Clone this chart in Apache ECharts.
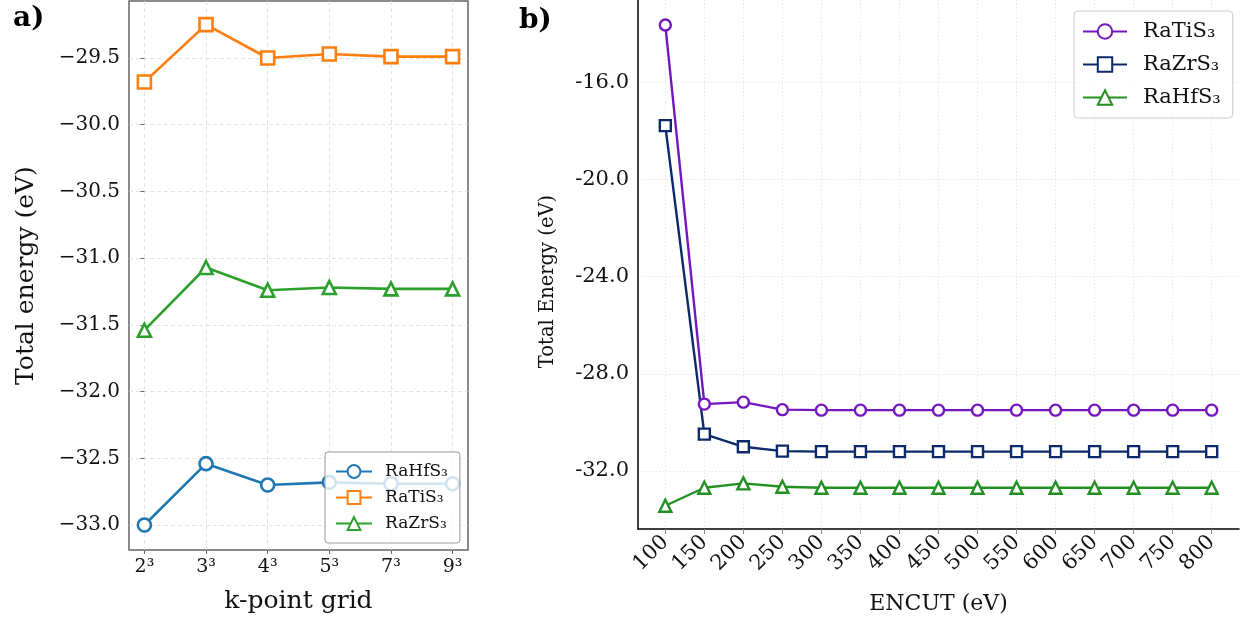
<!DOCTYPE html>
<html>
<head>
<meta charset="utf-8">
<script src="https://cdn.jsdelivr.net/npm/echarts@6/dist/echarts.min.js"></script>
<style>
html, body { margin: 0; background: #fff; }
#chart { width: 1244px; height: 623px; }
</style>
</head>
<body>
<div id="chart"></div>
<script>
// a) k-point grid convergence
const kGrid = ['2³', '3³', '4³', '5³', '7³', '9³'];
const kHf = [-33.00, -32.54, -32.70, -32.68, -32.69, -32.69];
const kTi = [-29.68, -29.25, -29.50, -29.47, -29.49, -29.49];
const kZr = [-31.54, -31.07, -31.24, -31.22, -31.23, -31.23];
const kTicks = [-33.0, -32.5, -32.0, -31.5, -31.0, -30.5, -30.0, -29.5];

// b) ENCUT convergence
const encut = [100, 150, 200, 250, 300, 350, 400, 450, 500, 550, 600, 650, 700, 750, 800];
const eTi = [-13.62, -29.25, -29.17, -29.48, -29.50, -29.50, -29.50, -29.50, -29.50, -29.50, -29.50, -29.50, -29.50, -29.50, -29.50];
const eZr = [-17.77, -30.49, -31.01, -31.19, -31.21, -31.21, -31.21, -31.21, -31.21, -31.21, -31.21, -31.21, -31.21, -31.21, -31.21];
const eHf = [-33.44, -32.70, -32.52, -32.66, -32.70, -32.70, -32.70, -32.70, -32.70, -32.70, -32.70, -32.70, -32.70, -32.70, -32.70];
const eTicks = [-32, -28, -24, -20, -16];

const serif = 'DejaVu Serif';

const kLine = (name, data, color, symbol) => ({
    name: name,
    type: 'line',
    xAxisIndex: 0,
    yAxisIndex: 0,
    data: data.map((v, i) => [i, v]),
    symbol: symbol,
    symbolSize: 13,
    lineStyle: { color: color, width: 2.6 },
    itemStyle: { color: '#fff', borderColor: color, borderWidth: 2.6 },
    z: 3
})
const eLine = (name, data, color, symbol, size) => ({
    name: name + ' (b)',
    type: 'line',
    xAxisIndex: 1,
    yAxisIndex: 1,
    data: encut.map((x, i) => [x, data[i]]),
    symbol: symbol,
    symbolSize: size,
    lineStyle: { color: color, width: 2.4 },
    itemStyle: { color: '#fff', borderColor: color, borderWidth: 2.4 },
    z: 3
})

const chart = echarts.init(document.getElementById('chart'))
chart.setOption({
    animation: false,
    textStyle: { fontFamily: serif },
    title: [
        { text: 'a)', left: 8, top: 0, textStyle: { fontFamily: serif, fontWeight: 'bold', fontSize: 28, color: '#000' } },
        { text: 'b)', left: 514, top: 2, textStyle: { fontFamily: serif, fontWeight: 'bold', fontSize: 28, color: '#000' } }
    ],
    grid: [
        { left: 129, top: 1, width: 339, height: 549, show: true, borderColor: '#666', borderWidth: 1.5, backgroundColor: 'transparent' },
        { left: 638, top: 0, right: 5, bottom: 94 }
    ],
    xAxis: [
        {
            type: 'value', gridIndex: 0, min: -0.25, max: 5.25,
            name: 'k-point grid', nameLocation: 'middle', nameGap: 39,
            nameTextStyle: { fontFamily: serif, fontSize: 25, color: '#111' },
            axisLine: { show: false },
            axisTick: { show: true, customValues: [0, 1, 2, 3, 4, 5], length: 4, lineStyle: { color: '#666' } },
            axisLabel: { customValues: [0, 1, 2, 3, 4, 5], formatter: v => kGrid[Math.round(v)], fontSize: 19, color: '#111', margin: 8 },
            splitLine: { show: true, lineStyle: { color: '#dcdcdc', type: [4, 3], width: 0.8 } }
        },
        {
            type: 'value', gridIndex: 1, min: 65, max: 835,
            name: 'ENCUT (eV)', nameLocation: 'middle', nameGap: 64,
            nameTextStyle: { fontFamily: serif, fontSize: 22, color: '#111' },
            axisLine: { show: true, lineStyle: { color: '#000', width: 1.5 } },
            axisTick: { show: true, customValues: encut, length: 5, lineStyle: { color: '#888' } },
            axisLabel: { customValues: encut, rotate: 45, fontSize: 21, color: '#111', margin: 10 },
            splitLine: { show: true, lineStyle: { color: '#e2e2e2', type: [1.5, 2], width: 0.8 } }
        }
    ],
    yAxis: [
        {
            type: 'value', gridIndex: 0, min: -33.187, max: -29.073,
            name: 'Total energy (eV)', nameLocation: 'middle', nameGap: 90,
            nameTextStyle: { fontFamily: serif, fontSize: 25, color: '#111' },
            axisLine: { show: false },
            axisTick: { show: true, customValues: kTicks, length: 4, lineStyle: { color: '#666' } },
            axisLabel: { customValues: kTicks, formatter: v => v.toFixed(1).replace('-', '\u2212'), fontSize: 20, color: '#111', margin: 9 },
            splitLine: { show: true, lineStyle: { color: '#dcdcdc', type: [4, 3], width: 0.8 } }
        },
        {
            type: 'value', gridIndex: 1, min: -34.40, max: -12.59,
            name: 'Total Energy (eV)', nameLocation: 'middle', nameGap: 80,
            nameTextStyle: { fontFamily: serif, fontSize: 19.5, color: '#111', padding: [0, 34, 0, 0] },
            axisLine: { show: true, lineStyle: { color: '#000', width: 1.5 } },
            axisTick: { show: false, customValues: eTicks },
            axisLabel: { customValues: eTicks, formatter: v => v.toFixed(1), fontSize: 21, color: '#111', margin: 9 },
            splitLine: { show: true, lineStyle: { color: '#e2e2e2', type: [1.5, 2], width: 0.8 } }
        }
    ],
    legend: [
        {
            data: ['RaHfS₃', 'RaTiS₃', 'RaZrS₃'],
            orient: 'vertical', left: 325, top: 452,
            padding: [11, 12, 11, 10], itemGap: 9, itemWidth: 36, itemHeight: 16,
            backgroundColor: 'rgba(255,255,255,0.8)', borderColor: '#999', borderWidth: 1, borderRadius: 3,
            textStyle: { fontFamily: serif, fontSize: 17, color: '#111', padding: [0, 0, 0, 8] },
            z: 10
        },
        {
            data: ['RaTiS₃ (b)', 'RaZrS₃ (b)', 'RaHfS₃ (b)'],
            formatter: n => n.replace(' (b)', ''),
            orient: 'vertical', left: 1074, top: 11,
            padding: [10, 12, 10, 8], itemGap: 12, itemWidth: 44, itemHeight: 18,
            backgroundColor: 'rgba(255,255,255,0.8)', borderColor: '#ccc', borderWidth: 1, borderRadius: 4,
            textStyle: { fontFamily: serif, fontSize: 21, color: '#111', padding: [0, 0, 0, 11] },
            z: 10
        }
    ],
    series: [
        kLine('RaHfS₃', kHf, '#1f77b4', 'circle'),
        kLine('RaTiS₃', kTi, '#ff7f0e', 'rect'),
        kLine('RaZrS₃', kZr, '#2ca02c', 'triangle'),
        eLine('RaTiS₃', eTi, '#7417c0', 'circle', 11),
        eLine('RaZrS₃', eZr, '#0c2a6b', 'rect', 11),
        eLine('RaHfS₃', eHf, '#229022', 'triangle', 12)
    ]
})
</script>
</body>
</html>
